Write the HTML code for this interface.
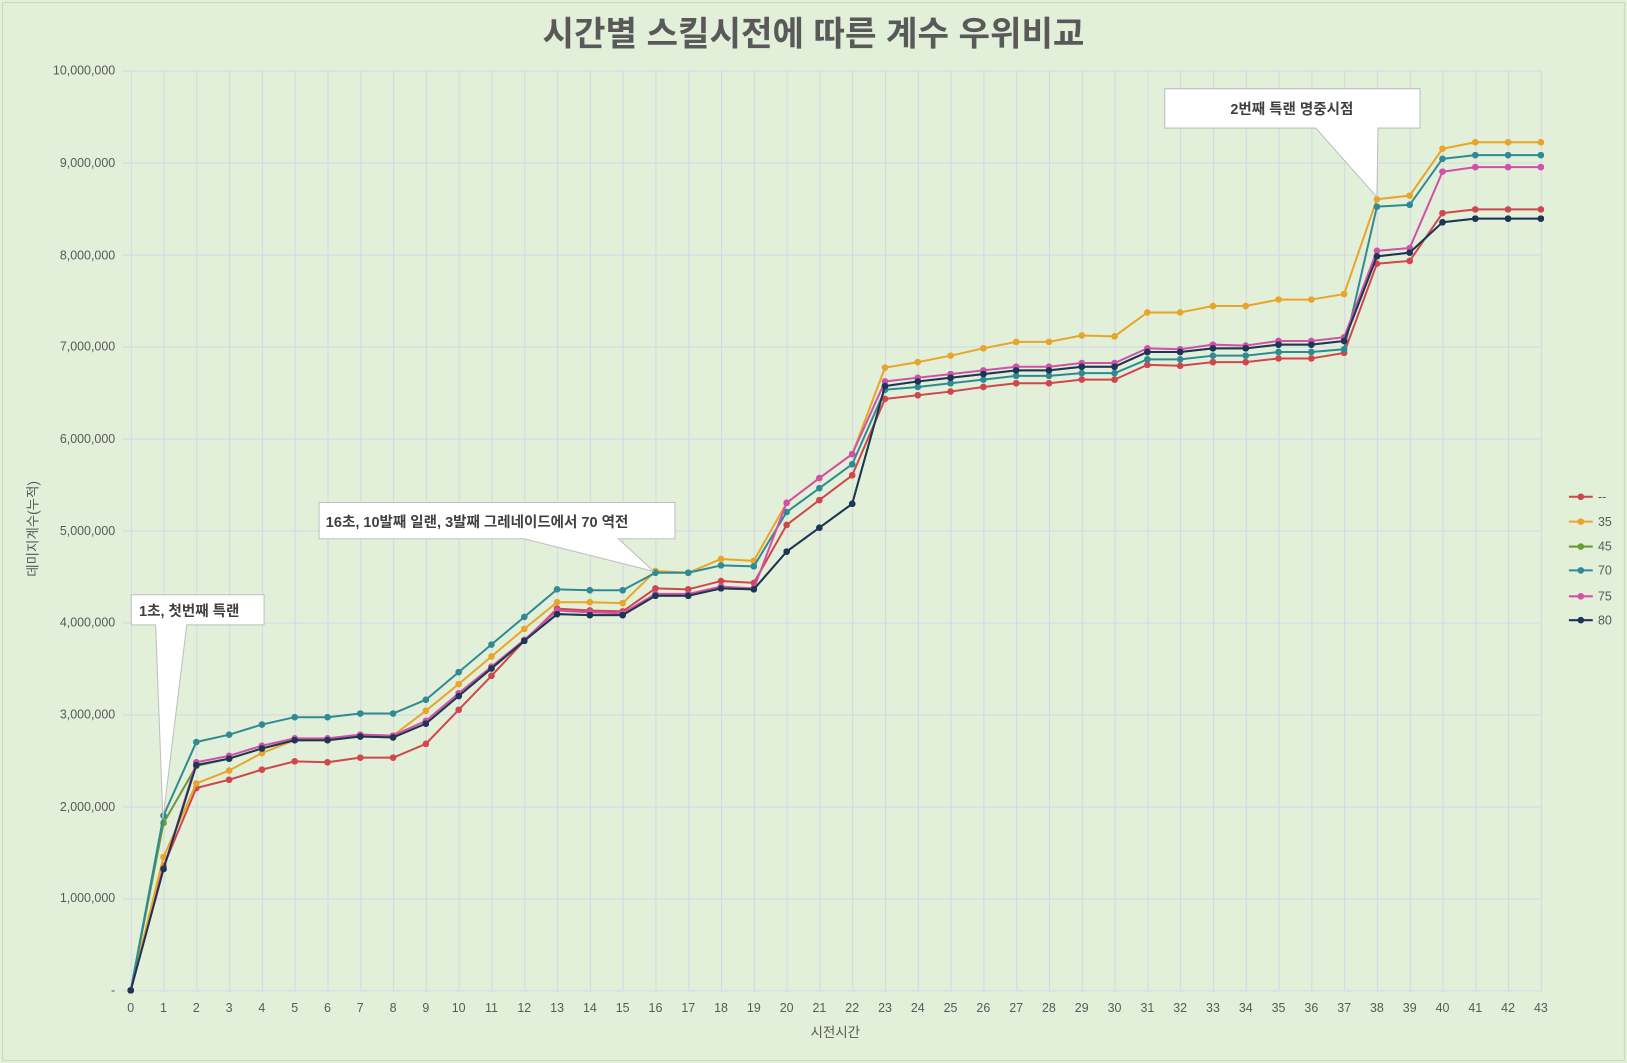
<!DOCTYPE html>
<html><head><meta charset="utf-8"><style>
html,body{margin:0;padding:0;background:#e2efd9;}
svg{display:block;font-family:"Liberation Sans","Noto Sans CJK KR",sans-serif;}
</style></head><body>
<svg width="1627" height="1063" viewBox="0 0 1568 1025" preserveAspectRatio="none">
<defs>
<pattern id="gv" x="126" y="0" width="31.6047" height="2000" patternUnits="userSpaceOnUse"><line x1="0.5" y1="0" x2="0.5" y2="2000" stroke="#d6d6e4" stroke-width="1"/></pattern>
<pattern id="gh" x="0" y="68" width="2000" height="88.7" patternUnits="userSpaceOnUse"><line x1="0" y1="0.5" x2="2000" y2="0.5" stroke="#d6d6e4" stroke-width="1"/></pattern>
<marker id="m1" markerUnits="userSpaceOnUse" markerWidth="0.2025" markerHeight="0.0722" viewBox="0 0 10 10" refX="5" refY="5" preserveAspectRatio="none"><circle cx="5" cy="5" r="5" fill="#d0474b"/></marker>
<marker id="m2" markerUnits="userSpaceOnUse" markerWidth="0.2025" markerHeight="0.0722" viewBox="0 0 10 10" refX="5" refY="5" preserveAspectRatio="none"><circle cx="5" cy="5" r="5" fill="#e8a628"/></marker>
<marker id="m3" markerUnits="userSpaceOnUse" markerWidth="0.2025" markerHeight="0.0722" viewBox="0 0 10 10" refX="5" refY="5" preserveAspectRatio="none"><circle cx="5" cy="5" r="5" fill="#6a9a34"/></marker>
<marker id="m4" markerUnits="userSpaceOnUse" markerWidth="0.2025" markerHeight="0.0722" viewBox="0 0 10 10" refX="5" refY="5" preserveAspectRatio="none"><circle cx="5" cy="5" r="5" fill="#2e8b94"/></marker>
<marker id="m5" markerUnits="userSpaceOnUse" markerWidth="0.2025" markerHeight="0.0722" viewBox="0 0 10 10" refX="5" refY="5" preserveAspectRatio="none"><circle cx="5" cy="5" r="5" fill="#d150a8"/></marker>
<marker id="m6" markerUnits="userSpaceOnUse" markerWidth="0.2025" markerHeight="0.0722" viewBox="0 0 10 10" refX="5" refY="5" preserveAspectRatio="none"><circle cx="5" cy="5" r="5" fill="#1d3557"/></marker>
</defs>
<rect x="0" y="0" width="1568" height="1025" fill="#e2efd9"/>
<rect x="2.5" y="2.5" width="1563" height="1020" fill="none" stroke="#c8d8bc"/>
<rect x="126" y="68" width="1360" height="887" fill="url(#gv)"/>
<rect x="118" y="68" width="1368" height="888" fill="url(#gh)"/>
<text x="784" y="44" text-anchor="middle" font-size="33" font-weight="bold" fill="#595959">시간별 스킬시전에 따른 계수 우위비교</text>
<g font-size="12" fill="#595959" text-anchor="end">
<text x="111" y="72">10,000,000</text><text x="111" y="161">9,000,000</text><text x="111" y="250">8,000,000</text><text x="111" y="338">7,000,000</text><text x="111" y="427">6,000,000</text><text x="111" y="516">5,000,000</text><text x="111" y="604">4,000,000</text><text x="111" y="693">3,000,000</text><text x="111" y="782">2,000,000</text><text x="111" y="870">1,000,000</text><text x="111" y="959">-</text>
</g>
<g font-size="12" fill="#595959" text-anchor="middle">
<text x="126" y="976">0</text><text x="157.6" y="976">1</text><text x="189.2" y="976">2</text><text x="220.8" y="976">3</text><text x="252.4" y="976">4</text><text x="284" y="976">5</text><text x="315.6" y="976">6</text><text x="347.2" y="976">7</text><text x="378.8" y="976">8</text><text x="410.4" y="976">9</text><text x="442" y="976">10</text><text x="473.7" y="976">11</text><text x="505.3" y="976">12</text><text x="536.9" y="976">13</text><text x="568.5" y="976">14</text><text x="600.1" y="976">15</text><text x="631.7" y="976">16</text><text x="663.3" y="976">17</text><text x="694.9" y="976">18</text><text x="726.5" y="976">19</text><text x="758.1" y="976">20</text><text x="789.7" y="976">21</text><text x="821.3" y="976">22</text><text x="852.9" y="976">23</text><text x="884.5" y="976">24</text><text x="916.1" y="976">25</text><text x="947.7" y="976">26</text><text x="979.3" y="976">27</text><text x="1010.9" y="976">28</text><text x="1042.5" y="976">29</text><text x="1074.1" y="976">30</text><text x="1105.8" y="976">31</text><text x="1137.4" y="976">32</text><text x="1169" y="976">33</text><text x="1200.6" y="976">34</text><text x="1232.2" y="976">35</text><text x="1263.8" y="976">36</text><text x="1295.4" y="976">37</text><text x="1327" y="976">38</text><text x="1358.6" y="976">39</text><text x="1390.2" y="976">40</text><text x="1421.8" y="976">41</text><text x="1453.4" y="976">42</text><text x="1485" y="976">43</text>
</g>
<text x="805" y="1000" text-anchor="middle" font-size="13" fill="#595959">시전시간</text>
<text transform="translate(36,510) rotate(-90)" text-anchor="middle" font-size="13" fill="#595959">데미지계수(누적)</text>

<g transform="translate(126,955) scale(31.6047,-88.7)" fill="none" stroke-width="2" stroke-linejoin="round">
<polyline vector-effect="non-scaling-stroke" stroke="#d0474b" marker-start="url(#m1)" marker-mid="url(#m1)" marker-end="url(#m1)" points="0,0 1,1.35 2,2.2 3,2.29 4,2.4 5,2.49 6,2.48 7,2.53 8,2.53 9,2.68 10,3.05 11,3.42 12,3.8 13,4.15 14,4.13 15,4.12 16,4.37 17,4.36 18,4.45 19,4.43 20,5.06 21,5.33 22,5.6 23,6.43 24,6.47 25,6.51 26,6.56 27,6.6 28,6.6 29,6.64 30,6.64 31,6.8 32,6.79 33,6.83 34,6.83 35,6.87 36,6.87 37,6.93 38,7.9 39,7.93 40,8.45 41,8.49 42,8.49 43,8.49"/>
<polyline vector-effect="non-scaling-stroke" stroke="#e8a628" marker-start="url(#m2)" marker-mid="url(#m2)" marker-end="url(#m2)" points="0,0 1,1.45 2,2.25 3,2.39 4,2.58 5,2.72 6,2.72 7,2.78 8,2.77 9,3.04 10,3.33 11,3.63 12,3.93 13,4.22 14,4.22 15,4.21 16,4.56 17,4.54 18,4.69 19,4.67 20,5.3 21,5.57 22,5.83 23,6.77 24,6.83 25,6.9 26,6.98 27,7.05 28,7.05 29,7.12 30,7.11 31,7.37 32,7.37 33,7.44 34,7.44 35,7.51 36,7.51 37,7.57 38,8.6 39,8.64 40,9.15 41,9.22 42,9.22 43,9.22"/>
<polyline vector-effect="non-scaling-stroke" stroke="#6a9a34" marker-start="url(#m3)" marker-mid="url(#m3)" marker-end="url(#m3)" points="0,0 1,1.82 2,2.44 3,2.52 4,2.63 5,2.72 6,2.72 7,2.76 8,2.75 9,2.9 10,3.2 11,3.5 12,3.8 13,4.09 14,4.08 15,4.08 16,4.29 17,4.29 18,4.37 19,4.36 20,4.77 21,5.03 22,5.29 23,6.57 24,6.62 25,6.66 26,6.7 27,6.74 28,6.74 29,6.78 30,6.78 31,6.94 32,6.94 33,6.98 34,6.98 35,7.02 36,7.02 37,7.06 38,7.98 39,8.02 40,8.35 41,8.39 42,8.39 43,8.39"/>
<polyline vector-effect="non-scaling-stroke" stroke="#2e8b94" marker-start="url(#m4)" marker-mid="url(#m4)" marker-end="url(#m4)" points="0,0 1,1.9 2,2.7 3,2.78 4,2.89 5,2.97 6,2.97 7,3.01 8,3.01 9,3.16 10,3.46 11,3.76 12,4.06 13,4.36 14,4.35 15,4.35 16,4.54 17,4.54 18,4.62 19,4.61 20,5.2 21,5.46 22,5.72 23,6.53 24,6.56 25,6.6 26,6.64 27,6.68 28,6.68 29,6.71 30,6.71 31,6.86 32,6.86 33,6.9 34,6.9 35,6.94 36,6.94 37,6.97 38,8.52 39,8.54 40,9.04 41,9.08 42,9.08 43,9.08"/>
<polyline vector-effect="non-scaling-stroke" stroke="#d150a8" marker-start="url(#m5)" marker-mid="url(#m5)" marker-end="url(#m5)" points="0,0 1,1.32 2,2.48 3,2.55 4,2.66 5,2.74 6,2.74 7,2.78 8,2.77 9,2.93 10,3.23 11,3.52 12,3.81 13,4.13 14,4.11 15,4.1 16,4.31 17,4.31 18,4.39 19,4.37 20,5.3 21,5.57 22,5.83 23,6.62 24,6.66 25,6.7 26,6.74 27,6.78 28,6.78 29,6.82 30,6.82 31,6.98 32,6.97 33,7.02 34,7.01 35,7.06 36,7.06 37,7.1 38,8.04 39,8.07 40,8.9 41,8.95 42,8.95 43,8.95"/>
<polyline vector-effect="non-scaling-stroke" stroke="#1d3557" marker-start="url(#m6)" marker-mid="url(#m6)" marker-end="url(#m6)" points="0,0 1,1.32 2,2.45 3,2.52 4,2.63 5,2.72 6,2.72 7,2.76 8,2.75 9,2.9 10,3.2 11,3.5 12,3.8 13,4.09 14,4.08 15,4.08 16,4.29 17,4.29 18,4.37 19,4.36 20,4.77 21,5.03 22,5.29 23,6.57 24,6.62 25,6.66 26,6.7 27,6.74 28,6.74 29,6.78 30,6.78 31,6.94 32,6.94 33,6.98 34,6.98 35,7.02 36,7.02 37,7.06 38,7.98 39,8.02 40,8.35 41,8.39 42,8.39 43,8.39"/>
</g>

<g stroke-width="2">
<line x1="1512" y1="479" x2="1535" y2="479" stroke="#d0474b"/><circle cx="1523.5" cy="479" r="3.2" fill="#d0474b"/>
<line x1="1512" y1="503" x2="1535" y2="503" stroke="#e8a628"/><circle cx="1523.5" cy="503" r="3.2" fill="#e8a628"/>
<line x1="1512" y1="527" x2="1535" y2="527" stroke="#6a9a34"/><circle cx="1523.5" cy="527" r="3.2" fill="#6a9a34"/>
<line x1="1512" y1="550" x2="1535" y2="550" stroke="#2e8b94"/><circle cx="1523.5" cy="550" r="3.2" fill="#2e8b94"/>
<line x1="1512" y1="575" x2="1535" y2="575" stroke="#d150a8"/><circle cx="1523.5" cy="575" r="3.2" fill="#d150a8"/>
<line x1="1512" y1="598" x2="1535" y2="598" stroke="#1d3557"/><circle cx="1523.5" cy="598" r="3.2" fill="#1d3557"/>
</g>
<g font-size="12" fill="#595959">
<text x="1540" y="483">--</text><text x="1540" y="507">35</text><text x="1540" y="531">45</text><text x="1540" y="554">70</text><text x="1540" y="579">75</text><text x="1540" y="602">80</text>
</g>
<g font-size="14" font-weight="bold" fill="#404040">
<path d="M126.5,573.5 H254.5 V602.5 H180 L157,790 L150,602.5 H126.5 Z" fill="#fff" stroke="#bfbfbf"/>
<text x="134" y="594">1초, 첫번째 특랜</text>
<path d="M307.5,484.5 H650.5 V519.5 H596 L630,551 L505,519.5 H307.5 Z" fill="#fff" stroke="#bfbfbf"/>
<text x="314" y="508">16초, 10발째 일랜, 3발째 그레네이드에서 70 역전</text>
<path d="M1122.5,85.5 H1368.5 V123.5 H1328 L1327,190 L1268,123.5 H1122.5 Z" fill="#fff" stroke="#bfbfbf"/>
<text x="1245" y="110" text-anchor="middle">2번째 특랜 명중시점</text>
</g>
</svg>
</body></html>
